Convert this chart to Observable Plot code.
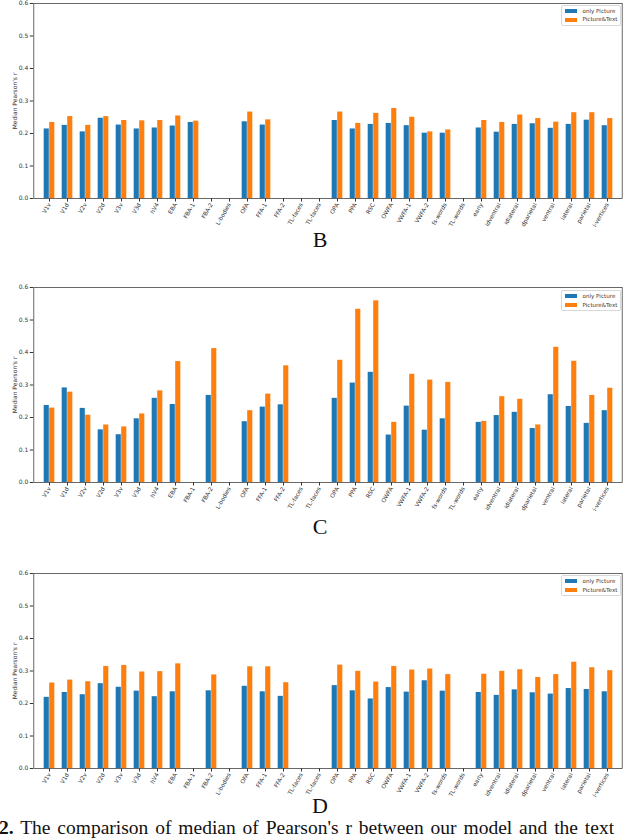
<!DOCTYPE html>
<html><head><meta charset="utf-8">
<script src="https://cdn.jsdelivr.net/npm/d3@7"></script>
<script src="https://cdn.jsdelivr.net/npm/@observablehq/plot@0.6"></script>
<style>
html,body{margin:0;padding:0;background:#fff;}
body{width:640px;height:838px;overflow:hidden;position:relative;font-family:"DejaVu Sans",sans-serif;}
.panel{position:absolute;left:0;}
.letter{position:absolute;left:0;width:640px;text-align:center;font-family:"Liberation Serif",serif;font-size:22px;line-height:20px;color:#111;}
.legend{position:absolute;left:560.5px;width:58px;height:19px;border:0.8px solid #d8d8d8;border-radius:2px;background:#fff;font-size:5.6px;color:#333;}
.legend .row{position:absolute;left:3px;height:8px;line-height:8px;white-space:nowrap;}
.legend .sw{display:inline-block;width:12px;height:4px;vertical-align:middle;margin-right:6px;}
.caption{position:absolute;left:-1px;top:817.5px;font-family:"Liberation Serif",serif;font-size:19.5px;line-height:20px;white-space:nowrap;color:#111;word-spacing:2px;}
</style></head>
<body>
<script>
const rois = ["V1v","V1d","V2v","V2d","V3v","V3d","hV4","EBA","FBA-1","FBA-2","mTL-bodies","OFA","FFA-1","FFA-2","mTL-faces","aTL-faces","OPA","PPA","RSC","OWFA","VWFA-1","VWFA-2","mfs-words","mTL-words","early","midventral","midlateral","midparietal","ventral","lateral","parietal","all-vertices"];
const seriesNames = ["only Picture","Picture&Text"];
const seriesColors = ["#1f77b4","#ff7f0e"];
const yTicks = [0.0,0.1,0.2,0.3,0.4,0.5,0.6];
const panelLetters = ["B","C","D"];

// Panel B
const B_only = [0.214,0.225,0.205,0.247,0.226,0.214,0.217,0.223,0.234,null,null,0.236,0.226,null,null,null,0.240,0.214,0.228,0.231,0.224,0.201,0.201,null,0.217,0.204,0.228,0.230,0.216,0.228,0.241,0.224];
const B_text = [0.234,0.252,0.225,0.252,0.240,0.239,0.240,0.254,0.238,null,null,0.266,0.242,null,null,null,0.266,0.231,0.262,0.277,0.250,0.205,0.211,null,0.240,0.234,0.257,0.246,0.235,0.264,0.264,0.246];
// Panel C
const C_only = [0.237,0.291,0.228,0.162,0.147,0.196,0.259,0.240,null,0.268,null,0.187,0.232,0.239,null,null,0.259,0.306,0.339,0.146,0.235,0.161,0.196,null,0.185,0.206,0.216,0.166,0.270,0.234,0.182,0.221];
const C_text = [0.229,0.278,0.207,0.177,0.171,0.211,0.282,0.372,null,0.412,null,0.221,0.272,0.359,null,null,0.376,0.533,0.559,0.185,0.333,0.315,0.308,null,0.188,0.264,0.256,0.177,0.416,0.373,0.268,0.290];
// Panel D
const D_only = [0.219,0.234,0.227,0.261,0.250,0.238,0.221,0.236,null,0.239,null,0.253,0.236,0.222,null,null,0.255,0.239,0.214,0.249,0.235,0.270,0.238,null,0.234,0.225,0.242,0.233,0.229,0.246,0.243,0.236];
const D_text = [0.263,0.272,0.267,0.314,0.317,0.297,0.298,0.322,null,0.288,null,0.313,0.313,0.264,null,null,0.318,0.299,0.266,0.314,0.303,0.306,0.289,null,0.290,0.299,0.304,0.280,0.289,0.327,0.310,0.301];

const panels = [
  {only:B_only, text:B_text, top:-2.3, letterTop:230, legendTop:4.7},
  {only:C_only, text:C_text, top:282.3, letterTop:517, legendTop:290},
  {only:D_only, text:D_text, top:568.3, letterTop:795.5, legendTop:575}
];

const W = 640, ML = 33.3, MR = 18.3, MT = 5, PH = 195, MB = 29;
const step = (W - ML - MR) / rois.length;
const bw = step * 0.3, half = step / 2;
const tickFont = 5.8;

// the reference figure is cropped, so long rotated labels only show their last part
const ctx = document.createElement("canvas").getContext("2d");
ctx.font = `${tickFont}px "DejaVu Sans"`;
const maxLabel = 27.5;
function visiblePart(s) {
  let t = s;
  while (t.length > 1 && ctx.measureText(t).width > maxLabel) t = t.slice(1);
  return t;
}

function makePanel(p) {
  const rows = rois.flatMap((r, i) => [
    {roi: r, series: seriesNames[0], value: p.only[i]},
    {roi: r, series: seriesNames[1], value: p.text[i]}
  ]).filter(d => d.value != null);
  return Plot.plot({
    width: W, height: MT + PH + MB,
    marginTop: MT, marginBottom: MB, marginLeft: ML, marginRight: MR,
    style: {overflow: "visible", fontFamily: "DejaVu Sans, sans-serif", fontSize: "6px", color: "#333", background: "transparent"},
    x: {type: "band", domain: rois, padding: 0, label: null},
    y: {domain: [0, 0.6]},
    color: {domain: seriesNames, range: seriesColors},
    marks: [
      Plot.barY(rows.filter(d => d.series === seriesNames[0]), {x: "roi", y: "value", fill: "series", insetLeft: half - bw, insetRight: half}),
      Plot.barY(rows.filter(d => d.series === seriesNames[1]), {x: "roi", y: "value", fill: "series", insetLeft: half, insetRight: half - bw}),
      Plot.axisX({tickRotate: -60, tickSize: 3.5, tickPadding: 1.5, label: null, fontSize: tickFont, tickFormat: visiblePart}),
      Plot.axisY({ticks: yTicks, tickFormat: ".1f", tickSize: 3.5, tickPadding: 2, label: "Median Pearson's r", labelAnchor: "center", labelArrow: "none", labelOffset: 21, fontSize: 6}),
      Plot.frame({stroke: "#444", strokeWidth: 0.8})
    ]
  });
}

panels.forEach((p, k) => {
  const svg = makePanel(p);
  svg.classList.add("panel");
  svg.style.top = p.top + "px";
  document.body.appendChild(svg);
  const lg = document.createElement("div");
  lg.className = "legend";
  lg.style.top = p.legendTop + "px";
  lg.innerHTML = seriesNames.map((s, i) =>
    `<div class="row" style="top:${1 + i * 8.5}px"><span class="sw" style="background:${seriesColors[i]}"></span>${s}</div>`).join("");
  document.body.appendChild(lg);
  const L = document.createElement("div");
  L.className = "letter";
  L.style.top = p.letterTop + "px";
  L.textContent = panelLetters[k];
  document.body.appendChild(L);
});

const cap = document.createElement("div");
cap.className = "caption";
cap.innerHTML = "<b>2.</b> The comparison of median of Pearson's r between our model and the text";
document.body.appendChild(cap);
</script>
</body></html>
